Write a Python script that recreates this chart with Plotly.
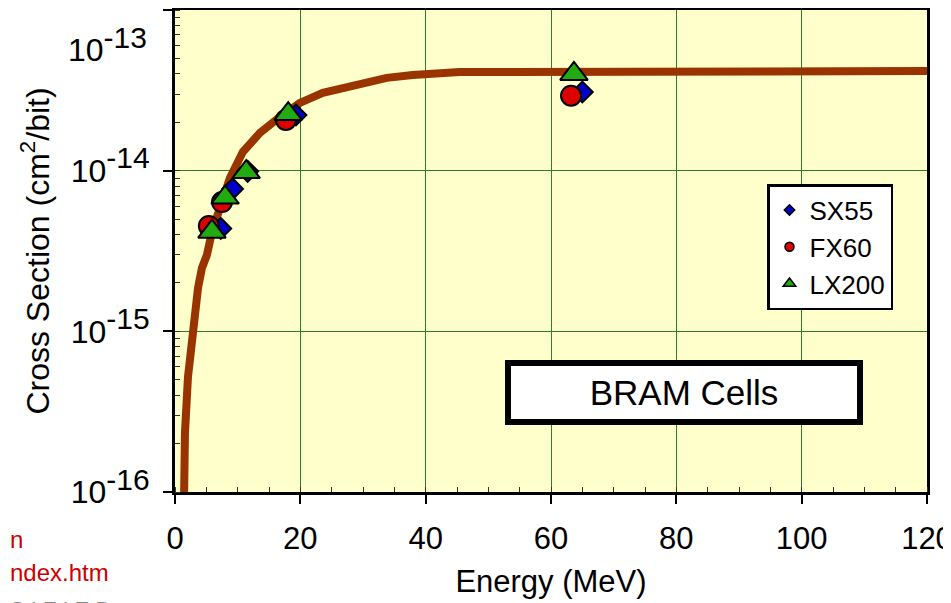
import plotly.graph_objects as go

# ---- data ----
curve_energy = [1.43, 1.59, 2.07, 2.71, 3.19, 3.67, 4.30, 5.10, 5.90, 7.17, 8.76, 10.84,
                13.55, 16.73, 19.92, 23.59, 27.41, 30.60, 33.78, 37.93, 45.42, 120.0]
curve_xs = [8.3e-17, 2.33e-16, 5.2e-16, 8.85e-16, 1.36e-15, 1.86e-15, 2.48e-15, 2.99e-15,
            4.16e-15, 6.12e-15, 9.0e-15, 1.31e-14, 1.72e-14, 2.16e-14, 2.64e-14, 3.05e-14,
            3.32e-14, 3.56e-14, 3.78e-14, 3.94e-14, 4.11e-14, 4.17e-14]

sx55_energy = [7.3, 9.2, 11.6, 19.3, 65.0]
sx55_xs = [4.37e-15, 7.7e-15, 9.9e-15, 2.22e-14, 3.09e-14]

fx60_energy = [5.4, 7.5, 17.7, 63.2]
fx60_xs = [4.53e-15, 6.38e-15, 2.07e-14, 2.93e-14]

lx200_energy = [5.9, 8.0, 11.36, 18.06, 63.66]
lx200_xs = [4.17e-15, 6.8e-15, 9.8e-15, 2.25e-14, 4.0e-14]

x_ticks = [0, 20, 40, 60, 80, 100, 120]
y_tick_vals = [1e-16, 1e-15, 1e-14, 1e-13]
y_tick_exps = ["-16", "-15", "-14", "-13"]

FONT = "Liberation Sans, Arial, sans-serif"

# The page body has an 8px margin, so the figure is sized to fill the window from (8, 8).
OFF = 8
FW, FH = 951 - OFF, 603 - OFF
# plot area in window pixels: x 175..927, y 10..492
L, R, T, B = 175 - OFF, 951 - 927, 10 - OFF, 603 - 492
PW, PH = FW - L - R, FH - T - B


def px_to_paper(px, py):
    """window pixel -> paper fraction"""
    return (px - OFF - L) / PW, (FH - B - (py - OFF)) / PH


fig = go.Figure()

fig.add_trace(go.Scatter(x=curve_energy, y=curve_xs, mode="lines",
                         line=dict(color="#993300", width=8), showlegend=False,
                         hoverinfo="skip"))

series = [
    ("SX55", sx55_energy, sx55_xs, "diamond", "#0000CC", 16, 8),
    ("FX60", fx60_energy, fx60_xs, "circle", "#DD0000", 20, 9),
    ("LX200", lx200_energy, lx200_xs, "triangle-up", "#22AA11", 24, 11),
]
for name, xs, ys, sym, col, size, lsize in series:
    fig.add_trace(go.Scatter(x=xs, y=ys, mode="markers", name=name, showlegend=False,
                             marker=dict(symbol=sym, size=size, color=col,
                                         line=dict(color="black", width=2))))
for name, xs, ys, sym, col, size, lsize in series:
    fig.add_trace(go.Scatter(x=[None], y=[None], mode="markers", name=name,
                             legendgroup=name,
                             marker=dict(symbol=sym, size=lsize, color=col,
                                         line=dict(color="black", width=1.5))))

EXP = "10<sup><span style='font-size:30px'>%s</span></sup>"
tick_text = [EXP % e for e in y_tick_exps]
tick_text[-1] = " "

lx, ly = px_to_paper(767, 184)
fig.update_layout(
    width=FW, height=FH,
    margin=dict(l=L, r=R, t=T, b=B, autoexpand=False),
    paper_bgcolor="white", plot_bgcolor="#FFFFCC",
    font=dict(family=FONT, color="black", size=30),
    showlegend=True,
    legend=dict(x=lx, y=ly, xanchor="left", yanchor="top",
                bgcolor="white", bordercolor="black", borderwidth=2.5,
                font=dict(size=26, family=FONT), tracegroupgap=0,
                traceorder="grouped", itemwidth=30),
    xaxis=dict(range=[0, 120], tickvals=x_ticks, ticks="outside", ticklen=9,
               tickwidth=1.5, tickcolor="black", showline=True, linewidth=3,
               linecolor="black", mirror=True, showgrid=True, gridcolor="#2E7D32",
               gridwidth=1, zeroline=False, tickfont=dict(size=31),
               ticklabelstandoff=8, automargin=False, ticklabeloverflow="allow",
               minor=dict(dtick=5, ticks="inside", ticklen=5, tickcolor="#333333",
                          tickwidth=1, showgrid=False),
               title=dict(text="Energy (MeV)", font=dict(size=31), standoff=16)),
    yaxis=dict(type="log", range=[-16, -13], tickvals=y_tick_vals, ticktext=tick_text,
               ticks="outside", ticklen=9, tickwidth=1.5, tickcolor="black",
               showline=True, linewidth=3, linecolor="black", mirror=True,
               showgrid=True, gridcolor="#2E7D32", gridwidth=1, zeroline=False,
               tickfont=dict(size=32), ticklabelstandoff=7, automargin=False,
               ticklabeloverflow="allow",
               minor=dict(dtick="D1", ticks="inside", ticklen=5, tickcolor="#333333",
                          tickwidth=1, showgrid=False),
               title=dict(text="Cross Section (cm<sup>2</sup>/bit)", font=dict(size=32),
                          standoff=12)),
)

# top tick label drawn lower, as in the original
fig.add_annotation(x=0, xref="paper", y=-13, yref="y", xanchor="right", yanchor="middle",
                   xshift=-26, yshift=-34, showarrow=False,
                   text=EXP % "-13", font=dict(size=32, family=FONT))

# label box
bx, by = px_to_paper(684, 392)
fig.add_annotation(x=bx, y=by, xref="paper", yref="paper", xanchor="center",
                   yanchor="middle", showarrow=False,
                   text="BRAM Cells", font=dict(size=35, family=FONT),
                   bgcolor="white", bordercolor="black", borderwidth=6, borderpad=4,
                   width=338, height=45)

# slide remnants at bottom-left
for txt, py, col, size, anchor in [("n", 539, "#CC0000", 24, "middle"),
                                   ("ndex.htm", 572, "#CC0000", 24, "middle"),
                                   ("S I F I E D", 595, "#888888", 22, "top")]:
    nx, ny = px_to_paper(OFF, py)
    fig.add_annotation(x=nx, y=ny, xref="paper", yref="paper", xanchor="left",
                       yanchor=anchor, showarrow=False, text=txt,
                       font=dict(size=size, color=col, family=FONT))

fig.write_html("out.html")
